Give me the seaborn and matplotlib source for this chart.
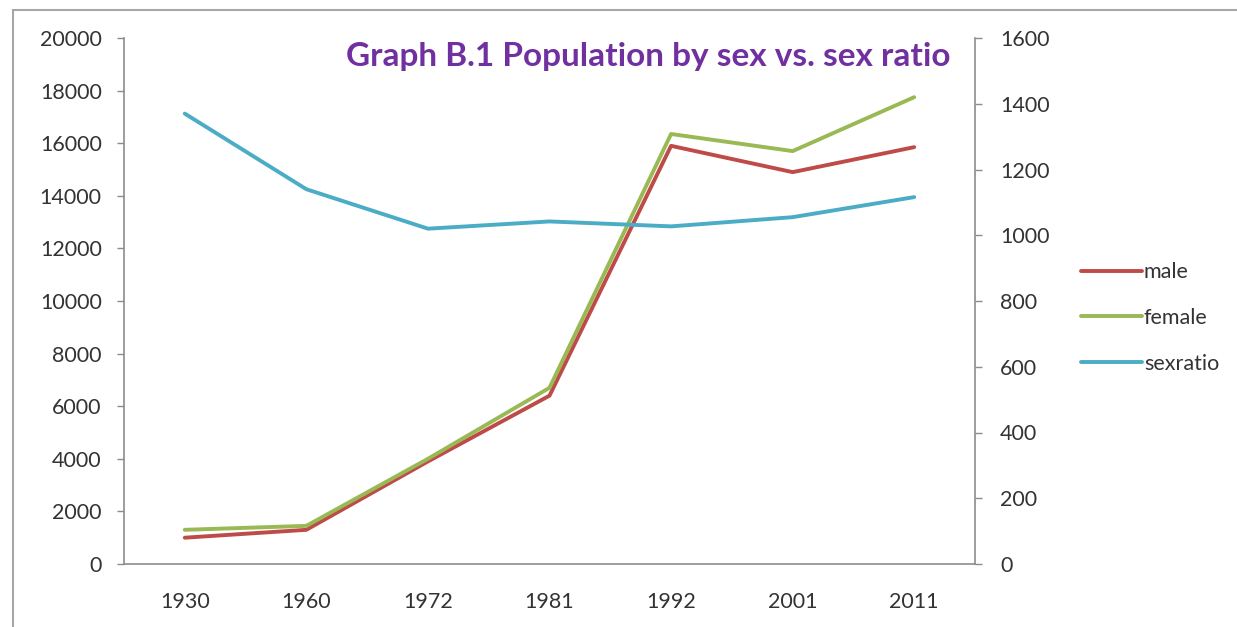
import pandas as pd
import numpy as np
import matplotlib
matplotlib.use("Agg")
import matplotlib.pyplot as plt
import seaborn as sns
from matplotlib.patches import Rectangle

# data
years = ["1930", "1960", "1972", "1981", "1992", "2001", "2011"]
male = [1000, 1300, 3900, 6400, 15900, 14900, 15850]
female = [1300, 1450, 4000, 6700, 16350, 15700, 17750]
sexratio = [1370, 1140, 1020, 1042, 1027, 1055, 1116]

sns.set_style("white")
plt.rcParams['font.family'] = ['Lato', 'DejaVu Sans']

pos = np.arange(len(years))
df = pd.DataFrame({"pos": pos, "male": male, "female": female, "sexratio": sexratio})

fig = plt.figure(figsize=(12.37, 6.27), dpi=100)
ax = fig.add_axes([124 / 1237, 1 - 564 / 627, (975 - 124) / 1237, (564 - 38) / 627])
ax2 = ax.twinx()

sns.lineplot(data=df, x="pos", y="male", ax=ax, color="#BE4B48", linewidth=2.8, label="male", legend=False)
sns.lineplot(data=df, x="pos", y="female", ax=ax, color="#98B954", linewidth=2.8, label="female", legend=False)
sns.lineplot(data=df, x="pos", y="sexratio", ax=ax2, color="#4BACC6", linewidth=2.8, label="sexratio", legend=False)

axis_col = "#8C8C8C"
txt_col = "#333333"
fs = 15.5

ax.set_xlim(-0.5, len(years) - 0.5)
ax.set_ylim(0, 20000)
ax2.set_ylim(0, 1600)
ax.set_yticks(np.arange(0, 20001, 2000))
ax2.set_yticks(np.arange(0, 1601, 200))

# category labels in the middle, tick marks on the boundaries
ax.set_xticks(np.arange(-0.5, len(years) + 0.5, 1))
ax.set_xticklabels([])
ax.set_xticks(pos, minor=True)
ax.set_xticklabels(years, minor=True)
ax.tick_params(axis="x", which="major", length=6, width=1, color=axis_col, direction="out")
ax.tick_params(axis="x", which="minor", length=0, pad=20, labelsize=fs, labelcolor=txt_col)
ax.tick_params(axis="y", length=5, width=1, color=axis_col, direction="out", pad=11,
               labelsize=fs, labelcolor=txt_col, left=True)
ax2.tick_params(axis="y", length=5, width=1, color=axis_col, direction="out", pad=13,
                labelsize=fs, labelcolor=txt_col, right=True)

for a in (ax, ax2):
    a.set_xlabel("")
    a.set_ylabel("")
    a.spines["top"].set_visible(False)
    for s in ("left", "right", "bottom"):
        a.spines[s].set_color(axis_col)
        a.spines[s].set_linewidth(1.2)
ax.spines["right"].set_visible(False)
ax2.spines["left"].set_visible(False)
ax2.spines["bottom"].set_visible(False)

ax.text(0.616, 0.965, "Graph B.1 Population by sex vs. sex ratio", transform=ax.transAxes,
        ha="center", va="center", fontsize=24, fontweight="bold", color="#7030A0")

h1, l1 = ax.get_legend_handles_labels()
h2, l2 = ax2.get_legend_handles_labels()
fig.legend(h1 + h2, l1 + l2, loc="center left", bbox_to_anchor=(1062 / 1237, 1 - 318 / 627),
           frameon=False, fontsize=fs, handlelength=2.8, handletextpad=0.1,
           labelspacing=1.2, labelcolor=txt_col)

# outer chart border
fig.patches.append(Rectangle((13 / 1237, -0.05), 1.2, 1 - 10 / 627 + 0.05, transform=fig.transFigure,
                             fill=False, edgecolor="#A6A6A6", linewidth=1.5))

fig.savefig("out.png", dpi=100)
